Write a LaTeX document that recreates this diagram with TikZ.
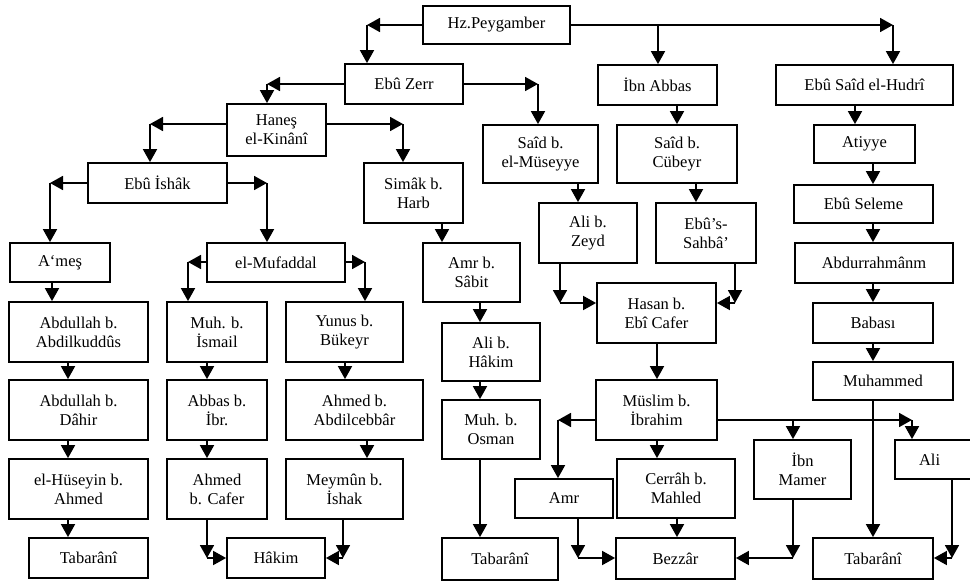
\documentclass[tikz,border=0pt]{standalone}
\usepackage{fontspec}
\setmainfont{Liberation Serif}
\usetikzlibrary{arrows.meta}
\tikzset{
 box/.style={draw, line width=1.8pt, inner sep=0pt, align=center, font=\fontsize{16.5}{19}\selectfont},
 arr/.style={line width=1.8pt, -{Triangle[length=13pt,width=14pt]}},
}
\newcommand\bx[6]{\node[box, minimum width={(#4-#2)*1pt}, minimum height={(#5-#3)*1pt}] (#1) at ({(#2+#4)/2},{(#3+#5)/2}) {#6};}
% vertical connector at x=#3 from #1 (south) to #2 (north)
\newcommand\vc[3]{\coordinate (tmp) at (#3,0); \draw[arr] (#1.south -| tmp) -- (#2.north -| tmp);}
% side anchor #1 -> corner (#2,#3) -> top of node #4
\newcommand\hv[4]{\coordinate (tmp) at (#2,#3); \draw[arr] (#1 |- tmp) -- (tmp); \draw[arr] (tmp) -- (#4.north -| tmp);}
% bottom of node #1 -> corner (#2,#3) -> side anchor #4
\newcommand\vh[4]{\coordinate (tmp) at (#2,#3); \draw[arr] (#1.south -| tmp) -- (tmp); \draw[arr] (tmp) -- (#4 |- tmp);}
\begin{document}
\begin{tikzpicture}[x=1pt,y=-1pt]
\useasboundingbox[fill=white] (0,0) rectangle (970,582);
\bx{hz}{423}{6}{570}{44}{Hz.Peygamber}
\bx{ez}{345}{64}{463}{104}{Ebû Zerr}
\bx{ia}{598}{65}{717}{105}{İbn Abbas}
\bx{es}{776}{65}{953}{105}{Ebû Saîd el-Hudrî}
\bx{hk}{227}{104}{326}{156}{Haneş\\el-Kinânî}
\bx{sm}{483}{125}{598}{183}{Saîd b.\\el-Müseyye}
\bx{sc}{617}{125}{737}{183}{Saîd b.\\Cübeyr}
\bx{at}{814}{125}{915}{163}{Atiyye}
\bx{ei}{88}{163}{227}{203}{Ebû İshâk}
\bx{si}{364}{163}{463}{223}{Simâk b.\\Harb}
\bx{se}{794}{185}{933}{223}{Ebû Seleme}
\bx{az}{539}{203}{637}{263}{Ali b.\\Zeyd}
\bx{eb}{656}{203}{756}{263}{Ebû’s-\\Sahbâ’}
\bx{am}{10}{243}{110}{282}{A‘meş}
\bx{mf}{207}{243}{345}{282}{el-Mufaddal}
\bx{as}{423}{243}{520}{302}{Amr b.\\Sâbit}
\bx{ar}{795}{243}{953}{283}{Abdurrahmânm}
\bx{ab}{9}{302}{148}{362}{Abdullah b.\\Abdilkuddûs}
\bx{mi}{167}{302}{267}{362}{Muh. b.\\İsmail}
\bx{yb}{286}{302}{403}{362}{Yunus b.\\Bükeyr}
\bx{hs}{597}{283}{716}{343}{Hasan b.\\Ebî Cafer}
\bx{bb}{813}{303}{933}{343}{Babası}
\bx{ah}{442}{323}{540}{381}{Ali b.\\Hâkim}
\bx{mu}{813}{362}{953}{400}{Muhammed}
\bx{ad}{9}{380}{148}{440}{Abdullah b.\\Dâhir}
\bx{ai}{167}{380}{267}{440}{Abbas b.\\İbr.}
\bx{aa}{286}{380}{423}{440}{Ahmed b.\\Abdilcebbâr}
\bx{ms}{596}{380}{717}{440}{Müslim b.\\İbrahim}
\bx{mo}{442}{400}{540}{459}{Muh. b.\\Osman}
\bx{ma}{754}{440}{851}{499}{İbn\\Mamer}
\bx{al}{895}{440}{990}{479}{\makebox[95pt][l]{\hspace{24pt}Ali}}
\bx{hu}{9}{459}{148}{519}{el-Hüseyin b.\\Ahmed}
\bx{ac}{167}{459}{267}{519}{Ahmed\\b. Cafer}
\bx{my}{286}{459}{403}{519}{Meymûn b.\\İshak}
\bx{ca}{617}{459}{735}{518}{Cerrâh b.\\Mahled}
\bx{amr}{515}{479}{613}{518}{Amr}
\bx{ta}{29}{538}{148}{578}{Tabarânî}
\bx{hm}{227}{538}{325}{578}{Hâkim}
\bx{tb}{442}{538}{558}{580}{Tabarânî}
\bx{bz}{616}{538}{735}{579}{Bezzâr}
\bx{tc}{813}{538}{933}{579}{Tabarânî}
% elbows
\hv{hz.west}{367}{25}{ez}
\hv{hz.east}{893}{25}{es}
\coordinate (tmp) at (658,25); \draw[arr] (tmp) -- (ia.north -| tmp);
\hv{ez.west}{267}{84}{hk}
\hv{ez.east}{538}{84}{sm}
\hv{hk.west}{150}{124}{ei}
\hv{hk.east}{403}{124}{si}
\hv{ei.west}{50}{183}{am}
\hv{ei.east}{267}{183}{mf}
\hv{mf.west}{188}{262}{mi}
\hv{mf.east}{365}{262}{yb}
\vh{az}{560}{303}{hs.west}
\vh{eb}{735}{303}{hs.east}
\vh{ac}{207}{558}{hm.west}
\vh{my}{343}{558}{hm.east}
\hv{ms.west}{558}{420}{amr}
\hv{ms.east}{912}{420}{al}
\coordinate (tmp) at (793,420); \draw[arr] (tmp) -- (ma.north -| tmp);
\vh{amr}{578}{558}{bz.west}
\vh{ma}{793}{558}{bz.east}
\vh{al}{952}{558}{tc.east}
% verticals
\vc{ia}{sc}{677}
\vc{es}{at}{855}
\vc{at}{se}{873}
\vc{se}{ar}{873}
\vc{ar}{bb}{873}
\vc{bb}{mu}{873}
\vc{mu}{tc}{873}
\vc{sm}{az}{578}
\vc{sc}{eb}{696}
\vc{hs}{ms}{657}
\vc{ms}{ca}{657}
\vc{ca}{bz}{677}
\vc{si}{as}{442}
\vc{as}{ah}{480}
\vc{ah}{mo}{480}
\vc{mo}{tb}{480}
\vc{am}{ab}{52}
\vc{ab}{ad}{68}
\vc{ad}{hu}{68}
\vc{hu}{ta}{68}
\vc{mi}{ai}{207}
\vc{ai}{ac}{207}
\vc{yb}{aa}{345}
\vc{aa}{my}{367}
\end{tikzpicture}
\end{document}
